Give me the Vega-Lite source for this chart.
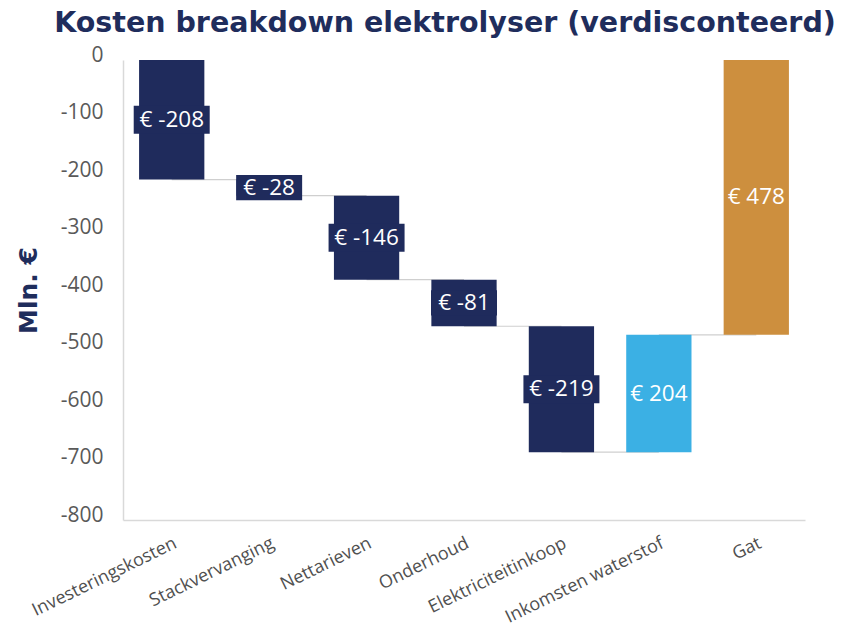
{
  "$schema": "https://vega.github.io/schema/vega-lite/v6.json",
  "width": 682,
  "height": 460,
  "autosize": "none",
  "padding": {"left": 123, "top": 60, "right": 45, "bottom": 118},
  "background": "white",
  "config": {"view": {"stroke": null}},
  "title": {
    "text": "Kosten breakdown elektrolyser (verdisconteerd)",
    "font": "DejaVu Sans",
    "fontSize": 28.5,
    "fontWeight": "bold",
    "color": "#1F2D5C",
    "anchor": "middle",
    "frame": "group",
    "dx": -19,
    "offset": 7
  },
  "data": {
    "values": [
      {"categorie": "Investeringskosten", "start": 0, "eind": -208, "bedrag": -208, "type": "kosten", "volgende": "Stackvervanging"},
      {"categorie": "Stackvervanging", "start": -208, "eind": -236, "bedrag": -28, "type": "kosten", "volgende": "Nettarieven"},
      {"categorie": "Nettarieven", "start": -236, "eind": -382, "bedrag": -146, "type": "kosten", "volgende": "Onderhoud"},
      {"categorie": "Onderhoud", "start": -382, "eind": -463, "bedrag": -81, "type": "kosten", "volgende": "Elektriciteitinkoop"},
      {"categorie": "Elektriciteitinkoop", "start": -463, "eind": -682, "bedrag": -219, "type": "kosten", "volgende": "Inkomsten waterstof"},
      {"categorie": "Inkomsten waterstof", "start": -682, "eind": -478, "bedrag": 204, "type": "opbrengst", "volgende": "Gat"},
      {"categorie": "Gat", "start": -478, "eind": 0, "bedrag": 478, "type": "gat", "volgende": null}
    ]
  },
  "transform": [
    {"calculate": "(datum.start + datum.eind) / 2", "as": "midden"},
    {"calculate": "'€ ' + datum.bedrag", "as": "label"}
  ],
  "encoding": {
    "x": {
      "field": "categorie",
      "type": "nominal",
      "sort": null,
      "scale": {"paddingInner": 0.33, "paddingOuter": 0.165},
      "axis": {
        "title": null,
        "labelAngle": -26,
        "labelFont": "Open Sans",
        "labelFontSize": 18,
        "labelColor": "#505050",
        "labelPadding": 14,
        "ticks": false,
        "domainColor": "#d9d9d9",
        "domainWidth": 1.5,
        "grid": false
      }
    }
  },
  "layer": [
    {
      "transform": [{"filter": "datum.volgende != null"}],
      "mark": {"type": "rule", "color": "#cfcfcf", "strokeWidth": 1.2},
      "encoding": {
        "x2": {"field": "volgende"},
        "y": {"field": "eind", "type": "quantitative"}
      }
    },
    {
      "mark": {"type": "bar"},
      "encoding": {
        "y": {
          "field": "start",
          "type": "quantitative",
          "scale": {"domain": [-800, 0], "nice": false},
          "axis": {
            "title": "Mln. €",
            "titleFont": "DejaVu Sans",
            "titleFontSize": 25,
            "titleFontWeight": "bold",
            "titleColor": "#1F2D5C",
            "titleX": -95,
            "titleY": 230,
            "titleAlign": "center",
            "titleBaseline": "middle",
            "titleAngle": -90,
            "values": [0, -100, -200, -300, -400, -500, -600, -700, -800],
            "labelExpr": "replace(datum.label, '−', '-')",
            "labelFont": "Open Sans",
            "labelFontSize": 21,
            "labelColor": "#595959",
            "labelPadding": 20,
            "labelOffset": -5,
            "ticks": false,
            "grid": false,
            "domainColor": "#d9d9d9",
            "domainWidth": 1.5
          }
        },
        "y2": {"field": "eind"},
        "color": {
          "field": "type",
          "type": "nominal",
          "scale": {"domain": ["kosten", "opbrengst", "gat"], "range": ["#1F2B5C", "#3BB0E4", "#CD8F3E"]},
          "legend": null
        }
      }
    },
    {
      "transform": [{"filter": "datum.bedrag <= -100"}],
      "mark": {"type": "point", "shape": "M-1.9,-0.7H1.9V0.7H-1.9Z", "size": 1600, "filled": true, "opacity": 1},
      "encoding": {
        "y": {"field": "midden", "type": "quantitative"},
        "color": {"field": "type", "type": "nominal", "legend": null}
      }
    },
    {
      "transform": [{"filter": "datum.bedrag > -100 && datum.bedrag < 0"}],
      "mark": {"type": "point", "shape": "M-1.65,-0.63H1.65V0.63H-1.65Z", "size": 1600, "filled": true, "opacity": 1},
      "encoding": {
        "y": {"field": "midden", "type": "quantitative"},
        "color": {"field": "type", "type": "nominal", "legend": null}
      }
    },
    {
      "mark": {"type": "text", "font": "Open Sans", "fontSize": 22.5, "color": "white", "baseline": "middle", "align": "center"},
      "encoding": {
        "y": {"field": "midden", "type": "quantitative"},
        "text": {"field": "label"}
      }
    }
  ]
}
